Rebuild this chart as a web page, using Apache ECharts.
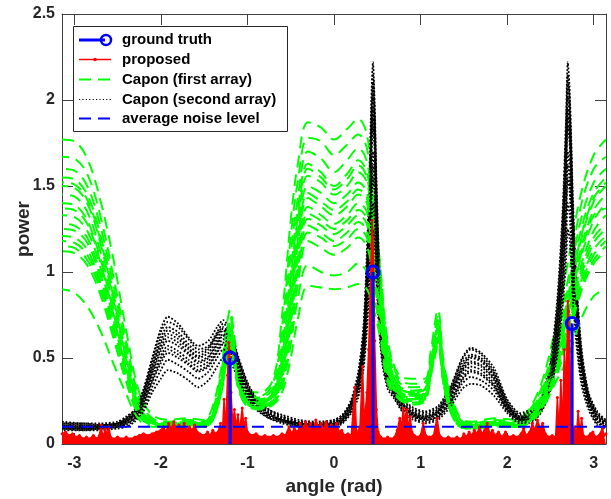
<!DOCTYPE html>
<html><head><meta charset="utf-8">
<script src="https://cdn.jsdelivr.net/npm/echarts@6/dist/echarts.min.js"></script>
<style>html,body{margin:0;padding:0;background:#fff}#c{width:611px;height:499px}</style>
</head><body><div id="c"></div>
<script>
// ---------- data ----------
const xTickValues = [-3, -2, -1, 0, 1, 2, 3];
const truthAngles = [-1.2, 0.45, 2.75];
const truthPowers = [0.5, 1.0, 0.7];
const noiseLevel = 0.1;
const legendNames = ['ground truth', 'proposed', 'Capon (first array)', 'Capon (second array)', 'average noise level'];

// Capon (first array): several trials sampled on a common angle grid
const greenAngles = [-3.14,-3.0,-2.85,-2.7,-2.55,-2.4,-2.25,-2.1,-1.9,-1.7,-1.5,-1.4,-1.3,-1.25,-1.2,-1.15,-1.1,-1.0,-0.85,-0.7,-0.6,-0.5,-0.42,-0.3,-0.15,0,0.15,0.28,0.38,0.46,0.54,0.62,0.75,0.9,1.05,1.12,1.2,1.27,1.35,1.46,1.6,1.85,2.1,2.25,2.4,2.55,2.7,2.85,3.0,3.14];
const green1 = [1.77,1.76,1.66,1.42,1.08,0.66,0.3,0.17,0.14,0.15,0.14,0.22,0.45,0.65,0.78,0.62,0.45,0.31,0.3,0.38,0.75,1.3,1.62,1.87,1.84,1.77,1.83,1.89,1.8,1.45,1.0,0.6,0.4,0.38,0.38,0.55,0.78,0.46,0.3,0.15,0.13,0.15,0.14,0.2,0.36,0.66,1.05,1.45,1.68,1.77];
const green2 = [1.67,1.66,1.57,1.33,0.98,0.6,0.27,0.15,0.13,0.14,0.13,0.2,0.42,0.6,0.74,0.58,0.42,0.29,0.28,0.36,0.68,1.2,1.52,1.78,1.76,1.68,1.74,1.8,1.72,1.4,0.98,0.58,0.38,0.35,0.36,0.52,0.74,0.44,0.28,0.14,0.12,0.14,0.13,0.19,0.33,0.6,0.95,1.38,1.6,1.67];
const green3 = [1.6,1.59,1.5,1.27,0.93,0.56,0.25,0.14,0.12,0.14,0.13,0.19,0.4,0.58,0.72,0.56,0.4,0.28,0.27,0.33,0.6,1.1,1.42,1.7,1.66,1.58,1.65,1.72,1.64,1.33,0.93,0.55,0.36,0.33,0.34,0.5,0.72,0.42,0.27,0.13,0.12,0.13,0.12,0.18,0.31,0.56,0.9,1.3,1.52,1.6];
const green4 = [1.55,1.54,1.45,1.22,0.88,0.52,0.24,0.13,0.12,0.13,0.12,0.18,0.38,0.56,0.7,0.55,0.39,0.27,0.26,0.31,0.55,1.0,1.35,1.63,1.58,1.5,1.57,1.65,1.58,1.28,0.9,0.52,0.34,0.31,0.33,0.48,0.7,0.41,0.26,0.12,0.11,0.13,0.12,0.17,0.29,0.52,0.85,1.24,1.46,1.55];
const green5 = [1.5,1.49,1.4,1.17,0.84,0.49,0.22,0.13,0.11,0.13,0.12,0.17,0.37,0.55,0.68,0.54,0.38,0.26,0.25,0.3,0.5,0.92,1.28,1.56,1.52,1.45,1.5,1.58,1.52,1.24,0.86,0.5,0.33,0.3,0.32,0.47,0.68,0.4,0.25,0.12,0.11,0.12,0.11,0.16,0.27,0.49,0.8,1.18,1.41,1.5];
const green6 = [1.45,1.44,1.35,1.12,0.8,0.46,0.21,0.12,0.11,0.12,0.12,0.17,0.36,0.54,0.67,0.53,0.37,0.25,0.24,0.29,0.47,0.86,1.22,1.5,1.46,1.4,1.45,1.52,1.46,1.2,0.84,0.48,0.32,0.29,0.31,0.46,0.67,0.39,0.24,0.11,0.1,0.12,0.11,0.15,0.26,0.47,0.77,1.13,1.36,1.45];
const green7 = [1.4,1.39,1.3,1.08,0.77,0.44,0.2,0.12,0.11,0.12,0.11,0.16,0.35,0.52,0.65,0.52,0.36,0.25,0.24,0.28,0.44,0.8,1.15,1.43,1.38,1.33,1.38,1.45,1.4,1.15,0.8,0.46,0.31,0.28,0.3,0.45,0.65,0.38,0.23,0.11,0.1,0.12,0.11,0.15,0.25,0.45,0.74,1.08,1.3,1.4];
const green8 = [1.33,1.32,1.24,1.03,0.73,0.42,0.19,0.12,0.11,0.12,0.11,0.16,0.34,0.51,0.64,0.51,0.35,0.24,0.23,0.27,0.42,0.76,1.1,1.38,1.33,1.28,1.33,1.4,1.35,1.1,0.78,0.45,0.3,0.27,0.29,0.44,0.64,0.37,0.22,0.11,0.1,0.11,0.1,0.14,0.24,0.43,0.7,1.03,1.24,1.33];
const green9 = [1.25,1.24,1.17,0.97,0.69,0.4,0.18,0.11,0.1,0.12,0.11,0.15,0.33,0.5,0.62,0.5,0.34,0.24,0.22,0.26,0.4,0.72,1.04,1.31,1.27,1.22,1.27,1.33,1.28,1.05,0.75,0.43,0.29,0.26,0.28,0.43,0.62,0.36,0.21,0.1,0.1,0.11,0.1,0.14,0.23,0.41,0.66,0.97,1.17,1.25];
const green10 = [1.18,1.17,1.1,0.92,0.65,0.38,0.17,0.11,0.1,0.11,0.11,0.15,0.32,0.48,0.6,0.48,0.33,0.23,0.21,0.25,0.37,0.67,0.98,1.23,1.2,1.15,1.19,1.25,1.2,1.0,0.72,0.41,0.28,0.25,0.27,0.42,0.6,0.35,0.2,0.1,0.09,0.11,0.1,0.13,0.22,0.39,0.63,0.92,1.1,1.18];
const green11 = [1.12,1.11,1.04,0.87,0.62,0.36,0.16,0.11,0.1,0.11,0.1,0.14,0.31,0.47,0.58,0.47,0.32,0.22,0.21,0.24,0.33,0.58,0.84,1.04,1.0,0.98,1.0,1.05,1.0,0.86,0.64,0.38,0.27,0.24,0.26,0.41,0.58,0.34,0.19,0.1,0.09,0.11,0.1,0.13,0.21,0.37,0.6,0.88,1.05,1.12];
const green12 = [0.9,0.88,0.8,0.66,0.47,0.29,0.14,0.1,0.1,0.11,0.1,0.14,0.3,0.45,0.56,0.45,0.31,0.22,0.2,0.23,0.3,0.5,0.72,0.92,0.91,0.9,0.91,0.93,0.9,0.78,0.6,0.36,0.26,0.23,0.25,0.4,0.56,0.33,0.18,0.1,0.09,0.1,0.1,0.12,0.2,0.35,0.5,0.72,0.86,0.9];
const green13 = [1.37,1.36,1.28,1.06,0.76,0.43,0.2,0.12,0.11,0.12,0.11,0.16,0.35,0.53,0.66,0.52,0.36,0.25,0.24,0.28,0.45,0.83,1.18,1.46,1.41,1.36,1.41,1.48,1.43,1.17,0.82,0.47,0.31,0.28,0.3,0.45,0.66,0.38,0.23,0.11,0.1,0.12,0.11,0.15,0.25,0.46,0.75,1.1,1.33,1.37];
const green14 = [1.28,1.27,1.2,0.99,0.71,0.41,0.18,0.11,0.1,0.12,0.11,0.15,0.33,0.5,0.63,0.5,0.35,0.24,0.22,0.26,0.41,0.74,1.07,1.34,1.3,1.25,1.3,1.36,1.31,1.07,0.76,0.44,0.29,0.26,0.28,0.43,0.63,0.36,0.21,0.1,0.1,0.11,0.1,0.14,0.23,0.42,0.68,1.0,1.2,1.28];
const green15 = [1.21,1.2,1.13,0.94,0.67,0.39,0.17,0.11,0.1,0.11,0.11,0.15,0.32,0.49,0.61,0.49,0.33,0.23,0.21,0.25,0.38,0.7,1.01,1.27,1.23,1.18,1.23,1.29,1.24,1.02,0.73,0.42,0.28,0.25,0.27,0.42,0.61,0.35,0.2,0.1,0.09,0.11,0.1,0.13,0.22,0.4,0.64,0.94,1.13,1.21];
const green16 = [1.52,1.51,1.42,1.19,0.86,0.5,0.23,0.13,0.12,0.13,0.12,0.18,0.38,0.55,0.69,0.54,0.38,0.26,0.25,0.3,0.52,0.96,1.31,1.6,1.55,1.48,1.54,1.62,1.55,1.26,0.88,0.51,0.33,0.3,0.32,0.47,0.69,0.4,0.25,0.12,0.11,0.12,0.11,0.16,0.28,0.5,0.82,1.2,1.43,1.52];
const green17 = [1.15,1.14,1.07,0.9,0.64,0.37,0.17,0.11,0.1,0.11,0.1,0.14,0.31,0.47,0.59,0.47,0.32,0.23,0.21,0.24,0.35,0.63,0.92,1.18,1.14,1.1,1.14,1.2,1.15,0.95,0.69,0.4,0.27,0.24,0.26,0.41,0.59,0.34,0.19,0.1,0.09,0.11,0.1,0.13,0.21,0.38,0.61,0.9,1.07,1.15];

// Capon (second array): several trials on a grid that is denser near the sharp peaks
const blackAngles = [-3.14,-2.9,-2.7,-2.5,-2.4,-2.3,-2.2,-2.1,-2.0,-1.92,-1.8,-1.68,-1.57,-1.45,-1.35,-1.28,-1.2,-1.1,-1.0,-0.9,-0.75,-0.6,-0.4,-0.2,0,0.1,0.2,0.28,0.34,0.38,0.41,0.43,0.45,0.47,0.49,0.52,0.56,0.62,0.7,0.8,0.92,1.05,1.2,1.35,1.48,1.58,1.7,1.85,2.0,2.15,2.3,2.4,2.5,2.58,2.64,2.68,2.7,2.72,2.74,2.76,2.8,2.86,2.94,3.04,3.14];
const black1 = [0.13,0.12,0.12,0.13,0.16,0.2,0.32,0.5,0.67,0.74,0.7,0.62,0.57,0.6,0.68,0.72,0.66,0.5,0.36,0.27,0.2,0.17,0.14,0.13,0.14,0.17,0.26,0.42,0.68,1.12,1.58,1.98,2.22,1.98,1.55,1.08,0.7,0.46,0.34,0.26,0.21,0.19,0.22,0.34,0.5,0.56,0.53,0.44,0.26,0.18,0.21,0.28,0.48,0.85,1.35,1.9,2.22,2.08,1.78,1.42,0.95,0.55,0.3,0.19,0.14];
const black2 = [0.12,0.11,0.11,0.12,0.15,0.19,0.3,0.47,0.62,0.68,0.65,0.58,0.53,0.56,0.64,0.68,0.63,0.48,0.34,0.26,0.19,0.16,0.13,0.12,0.13,0.16,0.24,0.38,0.62,1.02,1.45,1.85,2.1,1.9,1.45,1.0,0.64,0.43,0.32,0.24,0.19,0.17,0.2,0.32,0.47,0.52,0.5,0.41,0.24,0.16,0.19,0.26,0.44,0.78,1.25,1.78,2.1,1.98,1.68,1.32,0.88,0.5,0.28,0.17,0.13];
const black3 = [0.11,0.1,0.11,0.12,0.14,0.18,0.28,0.44,0.58,0.64,0.61,0.55,0.5,0.53,0.61,0.66,0.61,0.46,0.33,0.25,0.18,0.15,0.12,0.11,0.12,0.15,0.23,0.36,0.58,0.95,1.35,1.72,1.95,1.78,1.38,0.95,0.61,0.41,0.31,0.23,0.18,0.16,0.19,0.3,0.44,0.5,0.48,0.39,0.23,0.15,0.18,0.24,0.41,0.72,1.15,1.65,1.95,1.85,1.58,1.25,0.83,0.47,0.26,0.16,0.12];
const black4 = [0.1,0.1,0.1,0.11,0.13,0.17,0.26,0.41,0.54,0.6,0.57,0.52,0.47,0.5,0.58,0.63,0.59,0.44,0.32,0.24,0.17,0.14,0.12,0.11,0.12,0.14,0.22,0.34,0.55,0.9,1.28,1.62,1.85,1.7,1.32,0.9,0.58,0.39,0.3,0.22,0.17,0.15,0.18,0.28,0.42,0.47,0.45,0.37,0.22,0.15,0.17,0.23,0.39,0.68,1.08,1.55,1.85,1.76,1.5,1.18,0.78,0.45,0.25,0.15,0.11];
const black5 = [0.1,0.09,0.1,0.11,0.13,0.16,0.25,0.39,0.51,0.57,0.54,0.49,0.45,0.48,0.56,0.61,0.57,0.43,0.31,0.23,0.17,0.14,0.11,0.1,0.11,0.14,0.21,0.33,0.52,0.84,1.18,1.5,1.7,1.57,1.24,0.85,0.55,0.38,0.29,0.21,0.17,0.15,0.17,0.27,0.4,0.45,0.43,0.35,0.21,0.14,0.16,0.22,0.37,0.64,1.0,1.42,1.7,1.62,1.4,1.1,0.73,0.42,0.24,0.14,0.11];
const black6 = [0.09,0.09,0.09,0.1,0.12,0.15,0.23,0.36,0.47,0.53,0.5,0.46,0.42,0.45,0.53,0.58,0.54,0.41,0.3,0.22,0.16,0.13,0.11,0.1,0.11,0.13,0.2,0.31,0.49,0.78,1.08,1.37,1.55,1.44,1.14,0.79,0.52,0.36,0.28,0.2,0.16,0.14,0.16,0.25,0.37,0.42,0.4,0.33,0.2,0.14,0.15,0.21,0.35,0.6,0.94,1.3,1.55,1.48,1.28,1.01,0.68,0.4,0.23,0.13,0.1];
const black7 = [0.09,0.08,0.09,0.1,0.11,0.14,0.21,0.33,0.43,0.49,0.46,0.42,0.38,0.42,0.5,0.55,0.52,0.39,0.29,0.21,0.15,0.13,0.1,0.09,0.1,0.13,0.19,0.29,0.46,0.72,0.99,1.25,1.4,1.3,1.04,0.73,0.49,0.34,0.27,0.19,0.15,0.13,0.15,0.24,0.35,0.39,0.37,0.31,0.19,0.13,0.14,0.2,0.33,0.56,0.87,1.18,1.4,1.34,1.16,0.92,0.63,0.37,0.22,0.12,0.1];
const black8 = [0.08,0.08,0.08,0.09,0.1,0.13,0.19,0.3,0.38,0.43,0.41,0.37,0.33,0.37,0.45,0.5,0.48,0.37,0.27,0.2,0.15,0.12,0.1,0.09,0.1,0.12,0.18,0.27,0.43,0.66,0.9,1.12,1.25,1.17,0.94,0.67,0.46,0.32,0.26,0.18,0.14,0.12,0.14,0.22,0.32,0.35,0.34,0.28,0.18,0.12,0.13,0.19,0.31,0.52,0.8,1.07,1.25,1.2,1.05,0.84,0.58,0.34,0.2,0.11,0.09];
const black9 = [0.12,0.12,0.11,0.12,0.15,0.2,0.31,0.49,0.65,0.71,0.68,0.61,0.55,0.57,0.65,0.7,0.65,0.49,0.35,0.26,0.2,0.16,0.13,0.12,0.14,0.17,0.25,0.4,0.66,1.06,1.5,1.9,2.15,1.92,1.5,1.05,0.68,0.44,0.33,0.25,0.2,0.18,0.21,0.33,0.49,0.55,0.52,0.42,0.25,0.17,0.2,0.27,0.46,0.8,1.3,1.82,2.15,2.02,1.72,1.36,0.92,0.53,0.29,0.18,0.13];
const black10 = [0.11,0.11,0.1,0.12,0.14,0.18,0.29,0.45,0.6,0.66,0.63,0.56,0.51,0.55,0.63,0.67,0.62,0.47,0.33,0.25,0.18,0.15,0.12,0.11,0.13,0.16,0.24,0.37,0.6,0.98,1.4,1.78,2.02,1.84,1.42,0.97,0.62,0.42,0.31,0.23,0.18,0.16,0.19,0.31,0.45,0.51,0.49,0.4,0.23,0.16,0.18,0.25,0.43,0.75,1.2,1.7,2.02,1.9,1.62,1.28,0.85,0.48,0.27,0.16,0.12];
const black11 = [0.1,0.1,0.1,0.11,0.13,0.17,0.27,0.42,0.56,0.62,0.59,0.53,0.48,0.51,0.59,0.64,0.6,0.45,0.32,0.24,0.17,0.14,0.12,0.11,0.12,0.15,0.22,0.35,0.56,0.92,1.31,1.67,1.9,1.74,1.35,0.92,0.59,0.4,0.3,0.22,0.17,0.15,0.18,0.29,0.43,0.48,0.46,0.38,0.22,0.15,0.17,0.24,0.4,0.7,1.11,1.6,1.9,1.8,1.54,1.21,0.8,0.46,0.25,0.15,0.11];
const black12 = [0.09,0.09,0.09,0.1,0.12,0.15,0.24,0.37,0.49,0.55,0.52,0.47,0.43,0.46,0.54,0.59,0.55,0.42,0.3,0.22,0.16,0.14,0.11,0.1,0.11,0.13,0.2,0.32,0.5,0.8,1.12,1.43,1.62,1.5,1.19,0.82,0.53,0.37,0.28,0.2,0.16,0.14,0.16,0.26,0.38,0.43,0.41,0.34,0.2,0.14,0.15,0.21,0.36,0.62,0.97,1.36,1.62,1.55,1.34,1.05,0.7,0.41,0.23,0.13,0.1];

// proposed estimator: [angle, power]
const proposed = [[-3.14,0.06],[-3.1,0.07],[-3.06,0.05],[-3.02,0.06],[-2.98,0.04],[-2.94,0.05],[-2.9,0.03],[-2.86,0.04],[-2.82,0.03],[-2.78,0.05],[-2.74,0.03],[-2.71,0.05],[-2.69,0.11],[-2.67,0.04],[-2.64,0.09],[-2.62,0.05],[-2.6,0.1],[-2.58,0.04],[-2.55,0.03],[-2.5,0.04],[-2.45,0.03],[-2.4,0.04],[-2.35,0.03],[-2.3,0.04],[-2.25,0.05],[-2.2,0.06],[-2.15,0.05],[-2.1,0.06],[-2.05,0.07],[-2.0,0.08],[-1.97,0.1],[-1.94,0.07],[-1.91,0.12],[-1.88,0.09],[-1.85,0.13],[-1.82,0.08],[-1.79,0.11],[-1.76,0.09],[-1.73,0.12],[-1.7,0.08],[-1.67,0.1],[-1.64,0.08],[-1.61,0.11],[-1.58,0.07],[-1.55,0.06],[-1.5,0.05],[-1.46,0.07],[-1.43,0.05],[-1.4,0.08],[-1.37,0.06],[-1.34,0.07],[-1.31,0.12],[-1.29,0.06],[-1.27,0.26],[-1.25,0.08],[-1.23,0.4],[-1.215,0.59],[-1.2,0.5],[-1.19,0.3],[-1.17,0.12],[-1.15,0.2],[-1.13,0.1],[-1.11,0.17],[-1.09,0.08],[-1.06,0.21],[-1.04,0.1],[-1.02,0.15],[-1.0,0.07],[-0.95,0.05],[-0.9,0.06],[-0.85,0.04],[-0.8,0.05],[-0.75,0.04],[-0.7,0.05],[-0.65,0.04],[-0.6,0.06],[-0.56,0.05],[-0.52,0.1],[-0.49,0.06],[-0.46,0.09],[-0.42,0.07],[-0.39,0.12],[-0.36,0.08],[-0.33,0.13],[-0.3,0.09],[-0.27,0.12],[-0.24,0.08],[-0.21,0.14],[-0.18,0.1],[-0.15,0.12],[-0.12,0.08],[-0.09,0.13],[-0.06,0.09],[-0.03,0.11],[0.0,0.08],[0.03,0.12],[0.06,0.07],[0.09,0.08],[0.12,0.05],[0.16,0.06],[0.2,0.05],[0.24,0.33],[0.26,0.06],[0.3,0.1],[0.33,0.45],[0.35,0.12],[0.38,0.3],[0.4,0.55],[0.42,0.9],[0.44,1.3],[0.45,1.2],[0.46,0.95],[0.47,0.6],[0.49,0.2],[0.51,0.07],[0.54,0.04],[0.58,0.03],[0.62,0.04],[0.66,0.03],[0.7,0.04],[0.73,0.08],[0.76,0.15],[0.78,0.1],[0.8,0.21],[0.82,0.12],[0.84,0.2],[0.86,0.09],[0.88,0.16],[0.9,0.07],[0.93,0.05],[0.97,0.04],[1.0,0.05],[1.03,0.12],[1.06,0.05],[1.1,0.04],[1.15,0.05],[1.19,0.15],[1.22,0.05],[1.27,0.03],[1.32,0.04],[1.37,0.03],[1.42,0.04],[1.47,0.03],[1.5,0.06],[1.53,0.04],[1.56,0.07],[1.59,0.05],[1.62,0.08],[1.65,0.06],[1.68,0.1],[1.71,0.06],[1.74,0.08],[1.77,0.12],[1.8,0.06],[1.83,0.08],[1.86,0.05],[1.9,0.07],[1.94,0.04],[1.98,0.07],[2.02,0.04],[2.07,0.05],[2.12,0.04],[2.16,0.06],[2.19,0.09],[2.22,0.05],[2.26,0.07],[2.29,0.12],[2.32,0.08],[2.35,0.14],[2.38,0.09],[2.41,0.12],[2.44,0.06],[2.48,0.04],[2.52,0.05],[2.56,0.04],[2.58,0.27],[2.6,0.07],[2.62,0.37],[2.64,0.1],[2.66,0.55],[2.68,0.3],[2.7,0.83],[2.71,0.77],[2.72,0.6],[2.74,0.2],[2.76,0.06],[2.78,0.1],[2.8,0.05],[2.82,0.19],[2.84,0.06],[2.86,0.15],[2.88,0.05],[2.92,0.04],[2.96,0.06],[2.99,0.07],[3.02,0.04],[3.06,0.05],[3.1,0.09],[3.12,0.05],[3.14,0.06]];

// ---------- chart ----------
const FONT = "'Liberation Sans', Arial, Helvetica, sans-serif";
const AX = '#404040';
const TXT = '#262626';
const GREEN = '#00ff00', BLACK = '#000000', RED = '#ff0000', BLUE = '#0000ff';
const DASH = [12, 7], DOT = [1.8, 1.8];
const greens = [green1,green2,green16,green3,green4,green5,green6,green13,green7,green8,green14,green9,green15,green10,green17,green11,green12];
const blacks = [black1,black9,black2,black10,black3,black11,black4,black5,black12,black6,black7,black8];
const pair = (xs, ys) => xs.map((x, i) => [x, ys[i]]);

const series = [];
const n = Math.max(greens.length, blacks.length);
for (let i = 0; i < n; i++) {
  if (greens[i]) series.push({
    name: 'Capon (first array)', type: 'line', data: pair(greenAngles, greens[i]),
    symbol: 'none', smooth: 0.35,
    lineStyle: {color: GREEN, width: 2, type: DASH, dashOffset: (i * 5) % 19},
    itemStyle: {color: GREEN}, z: 2
  });
  if (blacks[i]) series.push({
    name: 'Capon (second array)', type: 'line', data: pair(blackAngles, blacks[i]),
    symbol: 'none', smooth: 0.25,
    lineStyle: {color: BLACK, width: 1.8, type: DOT, dashOffset: (i % 2) * 1.8},
    itemStyle: {color: BLACK}, z: 2
  });
}
series.push({
  name: 'proposed', type: 'line', data: proposed, symbol: 'circle', symbolSize: 3,
  lineStyle: {color: RED, width: 1.5}, itemStyle: {color: RED},
  areaStyle: {color: RED, opacity: 1}, z: 3
});
series.push({
  name: 'average noise level', type: 'line', data: [[-Math.PI, noiseLevel], [Math.PI, noiseLevel]],
  symbol: 'none', lineStyle: {color: BLUE, width: 2, type: DASH}, itemStyle: {color: BLUE}, z: 4
});
truthAngles.forEach((a, i) => {
  series.push({
    name: 'ground truth', type: 'line', symbol: 'circle', symbolSize: 12,
    data: [{value: [a, 0], symbol: 'none'}, {value: [a, truthPowers[i]]}],
    lineStyle: {color: BLUE, width: 3},
    itemStyle: {color: 'rgba(0,0,0,0)', borderColor: BLUE, borderWidth: 3}, z: 5
  });
});

// legend drawn as a boxed key (MATLAB style)
const LX = 73, LY = 26, LW = 214, LH = 105, rowY = [40, 59.5, 79.5, 99.5, 118.5];
const ix0 = 79, ix1 = 111, tx = 122;
const legendEls = [
  {type: 'rect', shape: {x: LX + 0.5, y: LY + 0.5, width: LW, height: LH}, style: {fill: '#fff', stroke: TXT, lineWidth: 1}},
  {type: 'line', shape: {x1: ix0, y1: rowY[0], x2: ix1 - 6, y2: rowY[0]}, style: {stroke: BLUE, lineWidth: 3}},
  {type: 'circle', shape: {cx: ix1 - 5, cy: rowY[0], r: 5}, style: {fill: 'none', stroke: BLUE, lineWidth: 2.5}},
  {type: 'line', shape: {x1: ix0, y1: rowY[1], x2: ix1, y2: rowY[1]}, style: {stroke: RED, lineWidth: 1.5}},
  {type: 'circle', shape: {cx: (ix0 + ix1) / 2, cy: rowY[1], r: 1.8}, style: {fill: RED}},
  {type: 'line', shape: {x1: ix0, y1: rowY[2], x2: ix1, y2: rowY[2]}, style: {stroke: GREEN, lineWidth: 2, lineDash: DASH}},
  {type: 'line', shape: {x1: ix0, y1: rowY[3], x2: ix1, y2: rowY[3]}, style: {stroke: BLACK, lineWidth: 1.2, lineDash: [1.2, 2.2]}},
  {type: 'line', shape: {x1: ix0, y1: rowY[4], x2: ix1, y2: rowY[4]}, style: {stroke: BLUE, lineWidth: 2, lineDash: DASH}}
];
legendNames.forEach((t, i) => legendEls.push({
  type: 'text', style: {x: tx, y: rowY[i], text: t, fill: '#000', font: "bold 15px 'Liberation Sans', Arial, sans-serif", verticalAlign: 'middle', align: 'left'}
}));

const tickLbl = {fontFamily: FONT, fontWeight: 'bold', fontSize: 16, color: TXT};
const chart = echarts.init(document.getElementById('c'), null, {renderer: 'canvas'});
chart.setOption({
  animation: false,
  backgroundColor: '#fff',
  grid: {left: 62, right: 5, top: 14, bottom: 55, containLabel: false, outerBoundsMode: 'none'},
  xAxis: [{
    type: 'value', min: -Math.PI, max: Math.PI, position: 'bottom',
    name: 'angle (rad)', nameLocation: 'middle', nameGap: 33, nameMoveOverlap: false,
    nameTextStyle: {fontFamily: FONT, fontWeight: 'bold', fontSize: 19, color: TXT},
    axisLine: {show: true, onZero: false, lineStyle: {color: AX, width: 1}},
    axisTick: {show: true, inside: true, length: 11, customValues: xTickValues, lineStyle: {color: AX}},
    axisLabel: Object.assign({margin: 12, customValues: xTickValues}, tickLbl),
    splitLine: {show: false}
  }, {
    type: 'value', min: -Math.PI, max: Math.PI, position: 'top',
    axisLine: {show: true, onZero: false, lineStyle: {color: AX, width: 1}},
    axisTick: {show: true, inside: true, length: 11, customValues: xTickValues, lineStyle: {color: AX}},
    axisLabel: {show: false}, splitLine: {show: false}
  }],
  yAxis: [{
    type: 'value', min: 0, max: 2.5, interval: 0.5, position: 'left',
    name: 'power', nameLocation: 'middle', nameGap: 29, nameMoveOverlap: false,
    nameTextStyle: {fontFamily: FONT, fontWeight: 'bold', fontSize: 19, color: TXT},
    axisLine: {show: true, onZero: false, lineStyle: {color: AX, width: 1}},
    axisTick: {show: true, inside: true, length: 11, lineStyle: {color: AX}},
    axisLabel: Object.assign({margin: 7}, tickLbl),
    splitLine: {show: false}
  }, {
    type: 'value', min: 0, max: 2.5, interval: 0.5, position: 'right',
    axisLine: {show: true, onZero: false, lineStyle: {color: AX, width: 1}},
    axisTick: {show: true, inside: true, length: 11, lineStyle: {color: AX}},
    axisLabel: {show: false}, splitLine: {show: false}
  }],
  series: series,
  graphic: {elements: [{type: 'group', z: 100, children: legendEls}]}
});
</script></body></html>
